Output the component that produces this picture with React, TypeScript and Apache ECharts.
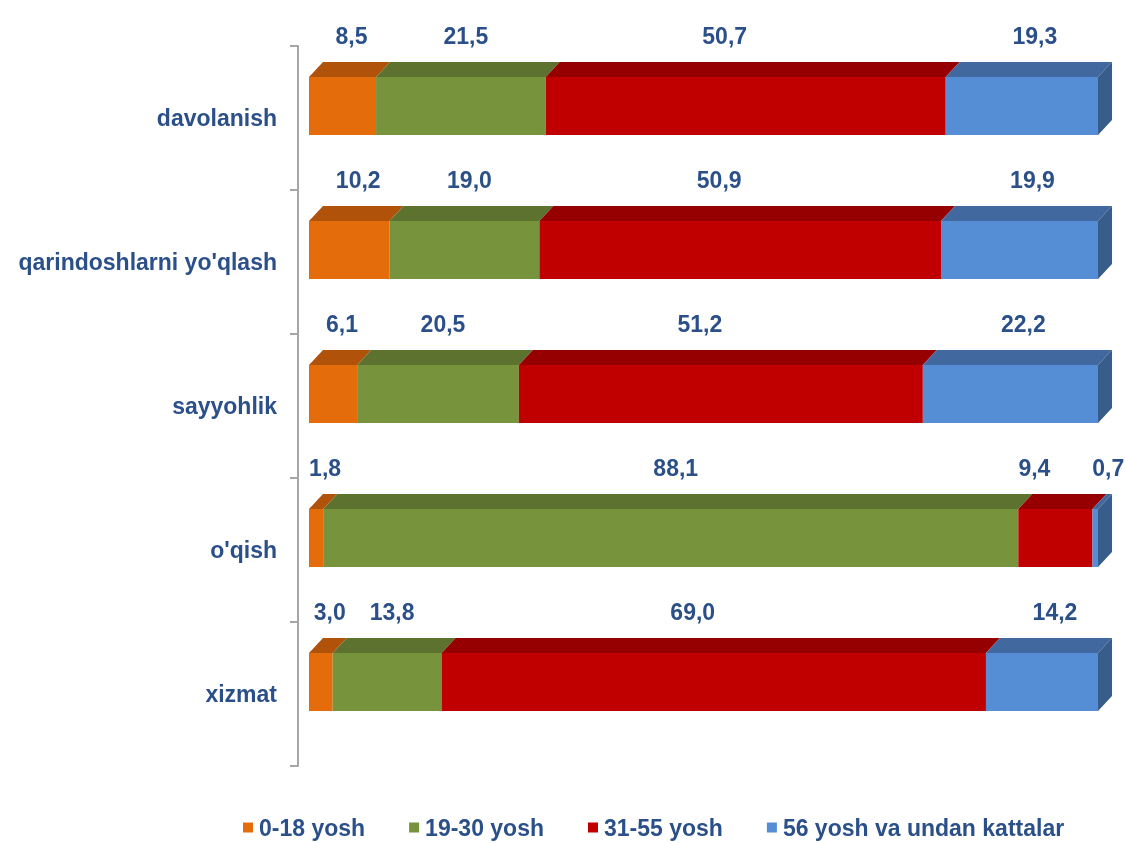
import React, { useEffect, useRef } from "react";
import * as echarts from "echarts";

const categories = ["davolanish", "qarindoshlarni yo'qlash", "sayyohlik", "o'qish", "xizmat"];
const seriesNames = ["0-18 yosh", "19-30 yosh", "31-55 yosh", "56 yosh va undan kattalar"];
const age0_18 = [8.5, 10.2, 6.1, 1.8, 3.0];
const age19_30 = [21.5, 19.0, 20.5, 88.1, 13.8];
const age31_55 = [50.7, 50.9, 51.2, 9.4, 69.0];
const age56plus = [19.3, 19.9, 22.2, 0.7, 14.2];

const frontColors = ["#E46C0A", "#77933C", "#C00000", "#558ED5"];
const topColors = ["#B0520A", "#5E722F", "#960000", "#4169A0"];
const sideColors = ["#A04A08", "#546829", "#850000", "#385D8A"];
const labelShift = [2, -2, -28, 6];

const FONT = "'Liberation Sans Narrow', 'Arial Narrow', 'Liberation Sans', Arial, sans-serif";
const TEXT_COLOR = "#2B5089";

export default function App() {
  const ref = useRef<HTMLDivElement>(null);
  useEffect(() => {
    if (!ref.current) return;
    const chart = echarts.init(ref.current, undefined, { renderer: "svg" });
    const all = [age0_18, age19_30, age31_55, age56plus];
    const gapX = 11;
    const series = all.map((vals, si) => {
      const data = vals.map((v, ci) => {
        let start = 0;
        for (let k = 0; k < si; k++) start += all[k][ci];
        return [start, start + v, ci, v];
      });
      return {
        type: "custom",
        name: seriesNames[si],
        itemStyle: { color: frontColors[si] },
        encode: { x: [0, 1], y: 2 },
        data,
        clip: false,
        renderItem: (params: any, api: any) => {
          const s = api.value(0);
          const e = api.value(1);
          const ci = api.value(2);
          const v = api.value(3);
          const p0 = api.coord([s, ci]);
          const p1 = api.coord([e, ci]);
          const cy = p0[1] - 12;
          const half = 29;
          const top = cy - half;
          const bottom = cy + half;
          const dx = 14;
          const dy = 15;
          const x0 = p0[0] + gapX;
          const x1 = p1[0] + gapX;
          const children: any[] = [
            {
              type: "polygon",
              shape: { points: [[x0, top], [x0 + dx, top - dy], [x1 + dx, top - dy], [x1, top]] },
              style: { fill: topColors[si] },
            },
            {
              type: "rect",
              shape: { x: x0, y: top, width: x1 - x0, height: bottom - top },
              style: { fill: frontColors[si] },
            },
          ];
          if (si === all.length - 1) {
            children.push({
              type: "polygon",
              shape: { points: [[x1, top], [x1 + dx, top - dy], [x1 + dx, bottom - dy], [x1, bottom]] },
              style: { fill: sideColors[si] },
            });
          }
          children.push({
            type: "text",
            style: {
              text: v.toFixed(1).replace(".", ","),
              x: (x0 + x1) / 2 + dx / 2 + labelShift[si],
              y: top - dy - 26,
              align: "center",
              verticalAlign: "middle",
              font: `bold 23px ${FONT}`,
              fill: TEXT_COLOR,
            },
          });
          return { type: "group", children };
        },
      };
    });
    chart.setOption({
      animation: false,
      grid: { left: 298, right: 39, top: 46, bottom: 77, containLabel: false },
      legend: {
        data: seriesNames,
        left: 238,
        top: 811,
        icon: "rect",
        itemWidth: 10,
        itemHeight: 10,
        itemGap: 44,
        textStyle: { color: TEXT_COLOR, fontFamily: FONT, fontWeight: "bold", fontSize: 23, padding: [0, 0, 0, 1] },
      },
      xAxis: { type: "value", min: 0, max: 100, show: false },
      yAxis: {
        type: "category",
        data: categories,
        inverse: true,
        axisLine: { show: true, lineStyle: { color: "#A6A6A6", width: 2 } },
        axisTick: { show: true, length: 8, lineStyle: { color: "#A6A6A6", width: 2 } },
        axisLabel: { color: TEXT_COLOR, fontFamily: FONT, fontWeight: "bold", fontSize: 23, margin: 21 },
        splitLine: { show: false },
      },
      series,
    });
    return () => chart.dispose();
  }, []);
  return <div ref={ref} style={{ position: "fixed", left: 0, top: 0, width: 1126, height: 843 }} />;
}
